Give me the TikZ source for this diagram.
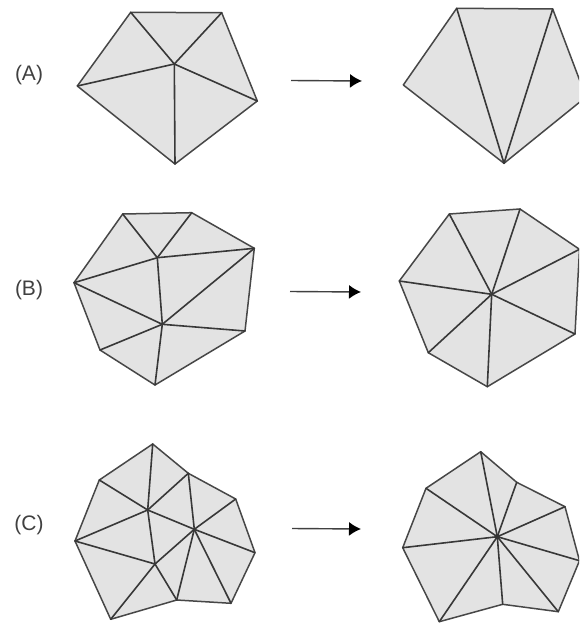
\documentclass[tikz,border=0pt]{standalone}
\usepackage{fontspec}
\setmainfont{Liberation Sans}
\usetikzlibrary{arrows.meta}
\tikzset{
  mesh/.style={draw=black!72,line width=1.5pt,fill=black!11,line join=round},
  edge/.style={draw=black!78,line width=1.6pt,line cap=round},
  flow/.style={draw=black!75,line width=1.4pt,-{Latex[length=12pt,width=14pt,black]}},
  tag/.style={font=\fontsize{21}{24}\selectfont,text=black!75,inner sep=0pt}
}
\begin{document}
\begin{tikzpicture}[x=1pt,y=-1pt]
\clip (0,0) rectangle (579,624);
\fill[white] (0,0) rectangle (579,624);
% labels
\node[tag] (la) at (29,75) {(A)};
\node[tag] (lb) at (29,290) {(B)};
\node[tag] (lc) at (29,525) {(C)};
% arrows
\coordinate (a1s) at (291,80.5); \coordinate (a1e) at (362,81);
\coordinate (a2s) at (290,291.5); \coordinate (a2e) at (361,292);
\coordinate (a3s) at (292,528.5); \coordinate (a3e) at (361,529);
\draw[flow] (a1s) -- (a1e);
\draw[flow] (a2s) -- (a2e);
\draw[flow] (a3s) -- (a3e);
% A left
\coordinate (A1) at (130.7,12.3); \coordinate (A2) at (221.7,12.7);
\coordinate (A3) at (257.3,101); \coordinate (A4) at (175,164);
\coordinate (A5) at (77.3,86); \coordinate (Ac) at (174.3,64);
\draw[mesh] (A1)--(A2)--(A3)--(A4)--(A5)--cycle;
\foreach \p in {A1,A2,A3,A4,A5} \draw[edge] (Ac)--(\p);
% A right
\coordinate (R1) at (456.7,8.3); \coordinate (R2) at (552.7,9);
\coordinate (R3) at (586,97); \coordinate (R4) at (504,163.3);
\coordinate (R5) at (403.3,85);
\draw[mesh] (R1)--(R2)--(R3)--(R4)--(R5)--cycle;
\foreach \p in {R1,R2} \draw[edge] (R4)--(\p);
% B left
\coordinate (B1) at (122.7,214); \coordinate (B2) at (191.7,212.7);
\coordinate (B3) at (254.3,248.3); \coordinate (B4) at (245,331);
\coordinate (B5) at (155,385); \coordinate (B6) at (100,350);
\coordinate (B7) at (74,282.7); \coordinate (Bi) at (157.3,257.7);
\coordinate (Bj) at (162.3,324.3);
\draw[mesh] (B1)--(B2)--(B3)--(B4)--(B5)--(B6)--(B7)--cycle;
\foreach \p in {B1,B2,B3,B7,Bj} \draw[edge] (Bi)--(\p);
\foreach \p in {B3,B4,B5,B6,B7} \draw[edge] (Bj)--(\p);
% B right
\coordinate (S1) at (449.3,214); \coordinate (S2) at (520,209);
\coordinate (S3) at (579.5,249.3); \coordinate (S4) at (575,334);
\coordinate (S5) at (487.3,386.7); \coordinate (S6) at (428.3,352.7);
\coordinate (S7) at (399.3,281); \coordinate (Sc) at (491.7,294.3);
\draw[mesh] (S1)--(S2)--(S3)--(S4)--(S5)--(S6)--(S7)--cycle;
\foreach \p in {S1,S2,S3,S4,S5,S6,S7} \draw[edge] (Sc)--(\p);
% C left
\coordinate (C1) at (152.7,444); \coordinate (C2) at (188.3,473.3);
\coordinate (C3) at (235.7,499); \coordinate (C4) at (255,552.7);
\coordinate (C5) at (231,603.3); \coordinate (C6) at (176.7,600);
\coordinate (C7) at (110.7,619.3); \coordinate (C8) at (75,541);
\coordinate (C9) at (99.3,480);
\coordinate (Ci) at (147.7,510); \coordinate (Cj) at (194.3,529.3);
\coordinate (Ck) at (155,564);
\draw[mesh] (C1)--(C2)--(C3)--(C4)--(C5)--(C6)--(C7)--(C8)--(C9)--cycle;
\foreach \p in {C1,C2,C8,C9,Cj,Ck} \draw[edge] (Ci)--(\p);
\foreach \p in {C2,C3,C4,C5,C6,Ck} \draw[edge] (Cj)--(\p);
\foreach \p in {C6,C7,C8} \draw[edge] (Ck)--(\p);
% C right
\coordinate (D1) at (480.7,451.7); \coordinate (D2) at (516.7,482.3);
\coordinate (D3) at (565,506.7); \coordinate (D4) at (579.5,560.7);
\coordinate (D5) at (558.3,611.7); \coordinate (D6) at (502.7,604.3);
\coordinate (D7) at (439.3,621.7); \coordinate (D8) at (402.7,547.7);
\coordinate (D9) at (426,488.3); \coordinate (Dc) at (497.3,536.7);
\draw[mesh] (D1)--(D2)--(D3)--(D4)--(D5)--(D6)--(D7)--(D8)--(D9)--cycle;
\foreach \p in {D1,D2,D3,D4,D5,D6,D7,D8,D9} \draw[edge] (Dc)--(\p);
\fill[black!80] (Dc) circle (2.5pt);
\end{tikzpicture}
\end{document}
